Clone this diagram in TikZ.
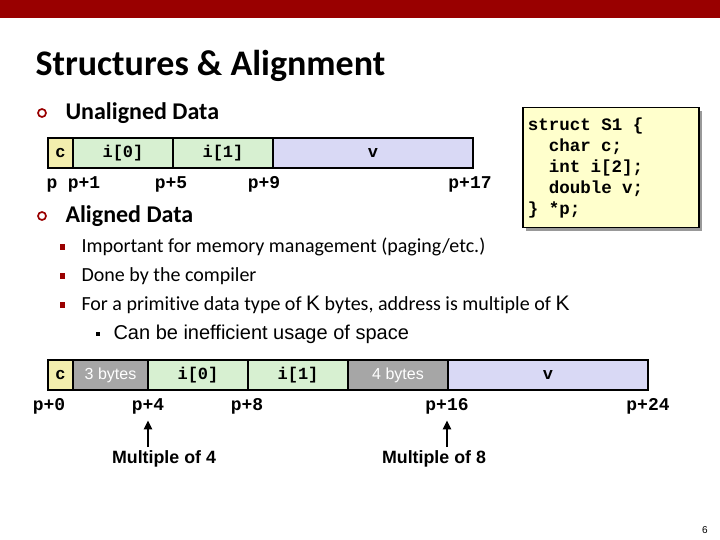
\documentclass[tikz,border=0pt]{standalone}
\usepackage{fontspec}
\setmainfont[Ligatures=NoCommon]{Carlito}
\newfontfamily\arialfont{Liberation Sans}
\newfontfamily\courfont{Liberation Mono}
\usetikzlibrary{arrows.meta,positioning,shadows}
\definecolor{cmured}{HTML}{990000}
\definecolor{charfill}{HTML}{F3EEAE}
\definecolor{intfill}{HTML}{D7F0D1}
\definecolor{dblfill}{HTML}{D9D9F5}
\definecolor{padfill}{HTML}{A6A6A6}
\definecolor{notefill}{HTML}{FFFFCC}
\newcommand\csp{\hspace*{0.6em}}

\begin{document}
\begin{tikzpicture}[
    x=1pt, y=-1pt,
    cell/.style={draw=black, line width=2.5pt, minimum height=30pt, inner sep=0pt, outer sep=0pt,
      anchor=west, font=\courfont\bfseries\fontsize{17}{17}\selectfont},
    pad/.style={cell, fill=padfill, text=white, font=\arialfont\fontsize{16}{16}\selectfont},
    addr/.style={anchor=base, font=\courfont\bfseries\fontsize{18}{18}\selectfont},
    heading/.style={anchor=west, font=\bfseries\fontsize{24}{24}\selectfont},
    ring/.style={circle, draw=cmured, line width=1.7pt, minimum size=8pt, inner sep=0pt},
    item/.style={anchor=west, font=\fontsize{20}{20}\selectfont},
    redsq/.style={fill=cmured, minimum width=5pt, minimum height=6pt, inner sep=0pt},
    blacksq/.style={fill=black, minimum size=4pt, inner sep=0pt},
    note/.style={draw=black, line width=1.5pt, fill=notefill, anchor=north west, align=left,
      minimum width=176pt, minimum height=120pt, text width=166pt, inner xsep=5pt,
      font=\courfont\bfseries\fontsize{17.5}{21}\selectfont,
      drop shadow={shadow xshift=3pt, shadow yshift=-3pt, fill=gray!80, opacity=1}},
    ptr/.style={-{Triangle[length=9pt,width=8pt]}, line width=2.5pt},
    tag/.style={font=\arialfont\bfseries\fontsize{17.8}{18}\selectfont}
]
\useasboundingbox (0,0) rectangle (720,540);
\fill[cmured] (0,0) rectangle (720,18);

\node[anchor=west, font=\bfseries\fontsize{36}{36}\selectfont] (title) at (32,66) {Structures \& Alignment};

% unaligned layout
\node[ring] (b1) at (42,113) {};
\node[heading] (unal) at (62,113) {Unaligned Data};
\node[cell, fill=charfill, minimum width=25pt] (uc) at (48,153) {c};
\node[cell, fill=intfill, minimum width=100pt, right=0pt of uc] (ui0) {i[0]};
\node[cell, fill=intfill, minimum width=100pt, right=0pt of ui0] (ui1) {i[1]};
\node[cell, fill=dblfill, minimum width=200pt, right=0pt of ui1] (uv) {v};
\foreach \n/\x/\t in {ua/52/p, ub/84/p+1, uc5/171/p+5, ud/264/p+9, ue/470/p+17}
  \node[addr] (\n) at (\x,189) {\t};

\node[note] (decl) at (522,107) {struct\csp S1\csp\{\\
\csp\csp char\csp c;\\
\csp\csp int\csp i[2];\\
\csp\csp double\csp v;\\
\}\csp *p;};

% aligned layout
\node[ring] (b2) at (42,216) {};
\node[heading] (alig) at (62,216) {Aligned Data};
\node[redsq] (s1) at (62,247) {};
\node[item] (t1) at (78,247) {Important for memory management (paging/etc.)};
\node[redsq] (s2) at (62,276) {};
\node[item] (t2) at (78,276) {Done by the compiler};
\node[redsq] (s3) at (62,305) {};
\node[item] (t3) at (78,305) {For a primitive data type of {\arialfont\fontsize{21}{21}\selectfont K} bytes, address is multiple of {\arialfont\fontsize{21}{21}\selectfont K}};
\node[blacksq] (s4) at (98,334) {};
\node[anchor=west, font=\arialfont\fontsize{20}{20}\selectfont] (t4) at (110,334) {Can be inefficient usage of space};

\node[cell, fill=charfill, minimum width=25pt] (ac) at (48,375) {c};
\node[pad, minimum width=75pt, right=0pt of ac] (ap3) {3 bytes};
\node[cell, fill=intfill, minimum width=100pt, right=0pt of ap3] (ai0) {i[0]};
\node[cell, fill=intfill, minimum width=100pt, right=0pt of ai0] (ai1) {i[1]};
\node[pad, minimum width=100pt, right=0pt of ai1] (ap4) {4 bytes};
\node[cell, fill=dblfill, minimum width=200pt, right=0pt of ap4] (av) {v};
\foreach \n/\x/\t in {a0/49/p+0, a4/148/p+4, a8/247/p+8, a16/447/p+16, a24/648/p+24}
  \node[addr] (\n) at (\x,410) {\t};

\node[tag] (m4) at (164,459) {Multiple of 4};
\node[tag] (m8) at (434,459) {Multiple of 8};
\draw[ptr] (m4.north -| a4.south) -- ([yshift=-3pt]a4.south);
\draw[ptr] (m8.north -| a16.south) -- ([yshift=-3pt]a16.south);

\node[font=\arialfont\fontsize{10}{10}\selectfont] (pg) at (705,530) {6};
\end{tikzpicture}
\end{document}
